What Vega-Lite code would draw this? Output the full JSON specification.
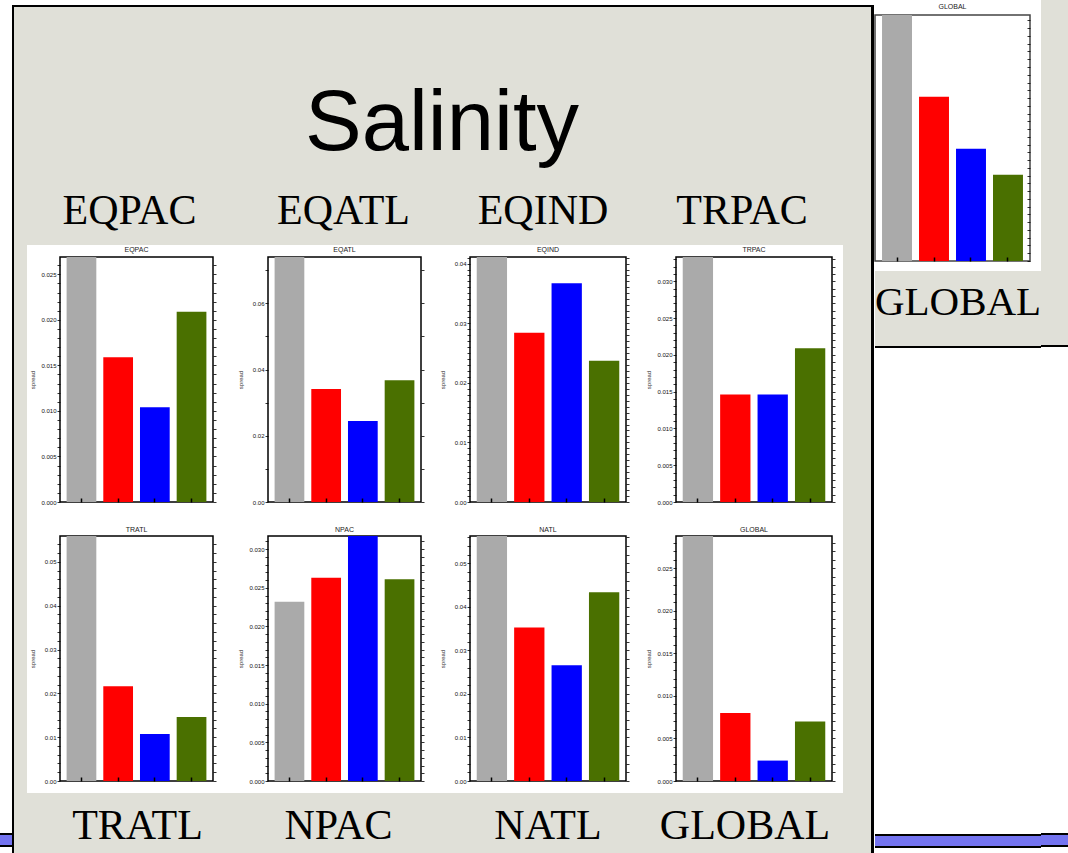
{
"$schema": "https://vega.github.io/schema/vega-lite/v6.json",
"background": "white",
"padding": 0,
"config": {"view": {"stroke": null}, "concat": {"spacing": 0}, "font": "Liberation Sans"},
"datasets": {
"spread": [
{"region":"EQPAC","model":"A","spread":0.028},{"region":"EQPAC","model":"B","spread":0.0159},{"region":"EQPAC","model":"C","spread":0.0104},{"region":"EQPAC","model":"D","spread":0.0209},
{"region":"EQATL","model":"A","spread":0.076},{"region":"EQATL","model":"B","spread":0.0341},{"region":"EQATL","model":"C","spread":0.0245},{"region":"EQATL","model":"D","spread":0.0368},
{"region":"EQIND","model":"A","spread":0.042},{"region":"EQIND","model":"B","spread":0.0284},{"region":"EQIND","model":"C","spread":0.0367},{"region":"EQIND","model":"D","spread":0.0237},
{"region":"TRPAC","model":"A","spread":0.034},{"region":"TRPAC","model":"B","spread":0.0146},{"region":"TRPAC","model":"C","spread":0.0146},{"region":"TRPAC","model":"D","spread":0.0209},
{"region":"TRATL","model":"A","spread":0.057},{"region":"TRATL","model":"B","spread":0.0216},{"region":"TRATL","model":"C","spread":0.0107},{"region":"TRATL","model":"D","spread":0.0146},
{"region":"NPAC","model":"A","spread":0.0232},{"region":"NPAC","model":"B","spread":0.0263},{"region":"NPAC","model":"C","spread":0.033},{"region":"NPAC","model":"D","spread":0.0261},
{"region":"NATL","model":"A","spread":0.057},{"region":"NATL","model":"B","spread":0.0353},{"region":"NATL","model":"C","spread":0.0266},{"region":"NATL","model":"D","spread":0.0434},
{"region":"GLOBAL","model":"A","spread":0.030},{"region":"GLOBAL","model":"B","spread":0.0080},{"region":"GLOBAL","model":"C","spread":0.0024},{"region":"GLOBAL","model":"D","spread":0.0070}
],
"global2": [{"model":"A","v":6.6},{"model":"B","v":4.23},{"model":"C","v":2.89},{"model":"D","v":2.22}]
},
"spacing": 0,
"hconcat": [
{"bounds": "flush", "spacing": 0, "vconcat": [
 {"width":12,"height":833,"data":{"values":[{}]},"mark":{"type":"point","size":0,"strokeWidth":0,"opacity":0},"encoding":{}},
 {"width":12,"height":2,"data":{"values":[{}]},"view":{"fill":"black"},"mark":{"type":"point","size":0,"strokeWidth":0,"opacity":0},"encoding":{}},
 {"width":12,"height":10,"data":{"values":[{}]},"view":{"fill":"#7474f0"},"mark":{"type":"point","size":0,"strokeWidth":0,"opacity":0},"encoding":{}},
 {"width":12,"height":2,"data":{"values":[{}]},"view":{"fill":"black"},"mark":{"type":"point","size":0,"strokeWidth":0,"opacity":0},"encoding":{}}
]},
{"spacing": 0, "vconcat": [
 {"width":862,"height":5,"data":{"values":[{}]},"mark":{"type":"point","size":0,"strokeWidth":0,"opacity":0},"encoding":{}},
 {"spacing": 0, "hconcat": [
  {"width":2,"height":848,"data":{"values":[{}]},"view":{"fill":"black"},"mark":{"type":"point","size":0,"strokeWidth":0,"opacity":0},"encoding":{}},
  {"spacing": 0, "vconcat": [
   {"width":857,"height":2,"data":{"values":[{}]},"view":{"fill":"black"},"mark":{"type":"point","size":0,"strokeWidth":0,"opacity":0},"encoding":{}},
   {"spacing": 0, "hconcat": [
    {"width":13,"height":846,"data":{"values":[{}]},"view":{"fill":"#e0e0d8"},"mark":{"type":"point","size":0,"strokeWidth":0,"opacity":0},"encoding":{}},
    {"spacing": 0, "vconcat": [
     {"width":816,"height":170,"data":{"values":[{"t":"Salinity"}]},"view":{"fill":"#e0e0d8"},"mark":{"type":"text","font":"Liberation Sans","fontSize":85,"baseline":"alphabetic","color":"black","dx":7,"dy":58},"encoding":{"text":{"field":"t","type":"nominal"}}},
     {"bounds":"flush","spacing":0,"hconcat":[
      {"width":33,"height":68,"data":{"values":[{}]},"view":{"fill":"#e0e0d8"},"mark":{"type":"point","size":0,"strokeWidth":0,"opacity":0},"encoding":{}},
      {"width":153,"height":68,"data":{"values":[{"t":"EQPAC"}]},"view":{"fill":"#e0e0d8"},"mark":{"type":"text","font":"Liberation Serif","fontSize":42,"baseline":"alphabetic","color":"black","dx":-7,"dy":13},"encoding":{"text":{"field":"t","type":"nominal"}}},
      {"width":55,"height":68,"data":{"values":[{}]},"view":{"fill":"#e0e0d8"},"mark":{"type":"point","size":0,"strokeWidth":0,"opacity":0},"encoding":{}},
      {"width":153,"height":68,"data":{"values":[{"t":"EQATL"}]},"view":{"fill":"#e0e0d8"},"mark":{"type":"text","font":"Liberation Serif","fontSize":42,"baseline":"alphabetic","color":"black","dx":-1,"dy":13},"encoding":{"text":{"field":"t","type":"nominal"}}},
      {"width":49,"height":68,"data":{"values":[{}]},"view":{"fill":"#e0e0d8"},"mark":{"type":"point","size":0,"strokeWidth":0,"opacity":0},"encoding":{}},
      {"width":156,"height":68,"data":{"values":[{"t":"EQIND"}]},"view":{"fill":"#e0e0d8"},"mark":{"type":"text","font":"Liberation Serif","fontSize":42,"baseline":"alphabetic","color":"black","dx":-5,"dy":13},"encoding":{"text":{"field":"t","type":"nominal"}}},
      {"width":50,"height":68,"data":{"values":[{}]},"view":{"fill":"#e0e0d8"},"mark":{"type":"point","size":0,"strokeWidth":0,"opacity":0},"encoding":{}},
      {"width":156,"height":68,"data":{"values":[{"t":"TRPAC"}]},"view":{"fill":"#e0e0d8"},"mark":{"type":"text","font":"Liberation Serif","fontSize":42,"baseline":"alphabetic","color":"black","dx":-12,"dy":13},"encoding":{"text":{"field":"t","type":"nominal"}}},
      {"width":11,"height":68,"data":{"values":[{}]},"view":{"fill":"#e0e0d8"},"mark":{"type":"point","size":0,"strokeWidth":0,"opacity":0},"encoding":{}}
     ]},
     {"bounds":"flush","spacing":0,"hconcat":[
      {"width":33,"height":8,"data":{"values":[{}]},"mark":{"type":"point","size":0,"strokeWidth":0,"opacity":0},"encoding":{}},
      {"width":153,"height":8,"data":{"values":[{"t":"EQPAC"}]},"mark":{"type":"text","font":"Liberation Sans","fontSize":7,"color":"#222222","dy":1},"encoding":{"text":{"field":"t","type":"nominal"}}},
      {"width":55,"height":8,"data":{"values":[{}]},"mark":{"type":"point","size":0,"strokeWidth":0,"opacity":0},"encoding":{}},
      {"width":153,"height":8,"data":{"values":[{"t":"EQATL"}]},"mark":{"type":"text","font":"Liberation Sans","fontSize":7,"color":"#222222","dy":1},"encoding":{"text":{"field":"t","type":"nominal"}}},
      {"width":49,"height":8,"data":{"values":[{}]},"mark":{"type":"point","size":0,"strokeWidth":0,"opacity":0},"encoding":{}},
      {"width":156,"height":8,"data":{"values":[{"t":"EQIND"}]},"mark":{"type":"text","font":"Liberation Sans","fontSize":7,"color":"#222222","dy":1},"encoding":{"text":{"field":"t","type":"nominal"}}},
      {"width":50,"height":8,"data":{"values":[{}]},"mark":{"type":"point","size":0,"strokeWidth":0,"opacity":0},"encoding":{}},
      {"width":156,"height":8,"data":{"values":[{"t":"TRPAC"}]},"mark":{"type":"text","font":"Liberation Sans","fontSize":7,"color":"#222222","dy":1},"encoding":{"text":{"field":"t","type":"nominal"}}},
      {"width":11,"height":8,"data":{"values":[{}]},"mark":{"type":"point","size":0,"strokeWidth":0,"opacity":0},"encoding":{}}
     ]},
     {"bounds":"flush","spacing":0,"hconcat":[
      {"width":33,"height":245,"data":{"values":[{}]},"mark":{"type":"point","size":0,"strokeWidth":0,"opacity":0},"encoding":{}},
      {"width":153,"height":245,"data":{"name":"spread"},"transform":[{"filter":"datum.region === 'EQPAC'"}],
       "view":{"fill":"white","stroke":"black","strokeWidth":1.5},
       "encoding":{"x":{"field":"model","type":"nominal","sort":null,"scale":{"paddingInner":0.19,"paddingOuter":0.18},"axis":{"title":null,"labels":false,"domain":false,"grid":false,"tickSize":4,"offset":-4,"tickColor":"black","tickWidth":1.5,"zindex":1}},
        "color":{"field":"model","type":"nominal","scale":{"domain":["A","B","C","D"],"range":["#aaaaaa","#ff0000","#0000ff","#4a7000"]},"legend":null}},
       "layer":[
        {"mark":{"type":"bar","clip":true},"encoding":{"y":{"field":"spread","type":"quantitative","scale":{"domain":[0,0.0269],"nice":false},"axis":{"orient":"left","title":"spread","titleFontSize":6,"titleFont":"Liberation Sans","titleFontWeight":"normal","titleColor":"#333333","titlePadding":5,"minExtent":20,"maxExtent":20,"values":[0,0.001,0.002,0.003,0.004,0.005,0.006,0.007,0.008,0.009,0.01,0.011,0.012,0.013,0.014,0.015,0.016,0.017,0.018,0.019,0.02,0.021,0.022,0.023,0.024,0.025,0.026],"labelExpr":"abs(datum.value*200-round(datum.value*200))<0.01 ? format(datum.value,'.3f') : ''","labelFontSize":6,"labelFont":"Liberation Sans","labelColor":"#111111","labelPadding":1,"labelFlush":false,"labelOverlap":false,"tickSize":3,"tickColor":"black","tickWidth":0.8,"domain":false,"grid":false}}}},
        {"mark":{"type":"bar","clip":true,"opacity":0},"encoding":{"y":{"field":"spread","type":"quantitative","scale":{"domain":[0,0.0269],"nice":false},"axis":{"orient":"right","title":null,"labels":false,"values":[0,0.001,0.002,0.003,0.004,0.005,0.006,0.007,0.008,0.009,0.01,0.011,0.012,0.013,0.014,0.015,0.016,0.017,0.018,0.019,0.02,0.021,0.022,0.023,0.024,0.025,0.026],"tickSize":3,"tickColor":"black","tickWidth":0.8,"domain":false,"grid":false}}}}
       ],
       "resolve":{"scale":{"y":"independent"}}},
      {"width":55,"height":245,"data":{"values":[{}]},"mark":{"type":"point","size":0,"strokeWidth":0,"opacity":0},"encoding":{}},
      {"width":153,"height":245,"data":{"name":"spread"},"transform":[{"filter":"datum.region === 'EQATL'"}],
       "view":{"fill":"white","stroke":"black","strokeWidth":1.5},
       "encoding":{"x":{"field":"model","type":"nominal","sort":null,"scale":{"paddingInner":0.19,"paddingOuter":0.18},"axis":{"title":null,"labels":false,"domain":false,"grid":false,"tickSize":4,"offset":-4,"tickColor":"black","tickWidth":1.5,"zindex":1}},
        "color":{"field":"model","type":"nominal","scale":{"domain":["A","B","C","D"],"range":["#aaaaaa","#ff0000","#0000ff","#4a7000"]},"legend":null}},
       "layer":[
        {"mark":{"type":"bar","clip":true},"encoding":{"y":{"field":"spread","type":"quantitative","scale":{"domain":[0,0.074],"nice":false},"axis":{"orient":"left","title":"spread","titleFontSize":6,"titleFont":"Liberation Sans","titleFontWeight":"normal","titleColor":"#333333","titlePadding":5,"minExtent":20,"maxExtent":20,"values":[0,0.01,0.02,0.03,0.04,0.05,0.06,0.07],"labelExpr":"abs(datum.value*50-round(datum.value*50))<0.01 ? format(datum.value,'.2f') : ''","labelFontSize":6,"labelFont":"Liberation Sans","labelColor":"#111111","labelPadding":1,"labelFlush":false,"labelOverlap":false,"tickSize":3,"tickColor":"black","tickWidth":0.8,"domain":false,"grid":false}}}},
        {"mark":{"type":"bar","clip":true,"opacity":0},"encoding":{"y":{"field":"spread","type":"quantitative","scale":{"domain":[0,0.074],"nice":false},"axis":{"orient":"right","title":null,"labels":false,"values":[0,0.01,0.02,0.03,0.04,0.05,0.06,0.07],"tickSize":3,"tickColor":"black","tickWidth":0.8,"domain":false,"grid":false}}}}
       ],
       "resolve":{"scale":{"y":"independent"}}},
      {"width":49,"height":245,"data":{"values":[{}]},"mark":{"type":"point","size":0,"strokeWidth":0,"opacity":0},"encoding":{}},
      {"width":156,"height":245,"data":{"name":"spread"},"transform":[{"filter":"datum.region === 'EQIND'"}],
       "view":{"fill":"white","stroke":"black","strokeWidth":1.5},
       "encoding":{"x":{"field":"model","type":"nominal","sort":null,"scale":{"paddingInner":0.19,"paddingOuter":0.18},"axis":{"title":null,"labels":false,"domain":false,"grid":false,"tickSize":4,"offset":-4,"tickColor":"black","tickWidth":1.5,"zindex":1}},
        "color":{"field":"model","type":"nominal","scale":{"domain":["A","B","C","D"],"range":["#aaaaaa","#ff0000","#0000ff","#4a7000"]},"legend":null}},
       "layer":[
        {"mark":{"type":"bar","clip":true},"encoding":{"y":{"field":"spread","type":"quantitative","scale":{"domain":[0,0.0411],"nice":false},"axis":{"orient":"left","title":"spread","titleFontSize":6,"titleFont":"Liberation Sans","titleFontWeight":"normal","titleColor":"#333333","titlePadding":5,"minExtent":20,"maxExtent":20,"values":[0,0.001,0.002,0.003,0.004,0.005,0.006,0.007,0.008,0.009,0.01,0.011,0.012,0.013,0.014,0.015,0.016,0.017,0.018,0.019,0.02,0.021,0.022,0.023,0.024,0.025,0.026,0.027,0.028,0.029,0.03,0.031,0.032,0.033,0.034,0.035,0.036,0.037,0.038,0.039,0.04,0.041],"labelExpr":"abs(datum.value*100-round(datum.value*100))<0.01 ? format(datum.value,'.2f') : ''","labelFontSize":6,"labelFont":"Liberation Sans","labelColor":"#111111","labelPadding":1,"labelFlush":false,"labelOverlap":false,"tickSize":3,"tickColor":"black","tickWidth":0.8,"domain":false,"grid":false}}}},
        {"mark":{"type":"bar","clip":true,"opacity":0},"encoding":{"y":{"field":"spread","type":"quantitative","scale":{"domain":[0,0.0411],"nice":false},"axis":{"orient":"right","title":null,"labels":false,"values":[0,0.001,0.002,0.003,0.004,0.005,0.006,0.007,0.008,0.009,0.01,0.011,0.012,0.013,0.014,0.015,0.016,0.017,0.018,0.019,0.02,0.021,0.022,0.023,0.024,0.025,0.026,0.027,0.028,0.029,0.03,0.031,0.032,0.033,0.034,0.035,0.036,0.037,0.038,0.039,0.04,0.041],"tickSize":3,"tickColor":"black","tickWidth":0.8,"domain":false,"grid":false}}}}
       ],
       "resolve":{"scale":{"y":"independent"}}},
      {"width":50,"height":245,"data":{"values":[{}]},"mark":{"type":"point","size":0,"strokeWidth":0,"opacity":0},"encoding":{}},
      {"width":156,"height":245,"data":{"name":"spread"},"transform":[{"filter":"datum.region === 'TRPAC'"}],
       "view":{"fill":"white","stroke":"black","strokeWidth":1.5},
       "encoding":{"x":{"field":"model","type":"nominal","sort":null,"scale":{"paddingInner":0.19,"paddingOuter":0.18},"axis":{"title":null,"labels":false,"domain":false,"grid":false,"tickSize":4,"offset":-4,"tickColor":"black","tickWidth":1.5,"zindex":1}},
        "color":{"field":"model","type":"nominal","scale":{"domain":["A","B","C","D"],"range":["#aaaaaa","#ff0000","#0000ff","#4a7000"]},"legend":null}},
       "layer":[
        {"mark":{"type":"bar","clip":true},"encoding":{"y":{"field":"spread","type":"quantitative","scale":{"domain":[0,0.0333],"nice":false},"axis":{"orient":"left","title":"spread","titleFontSize":6,"titleFont":"Liberation Sans","titleFontWeight":"normal","titleColor":"#333333","titlePadding":5,"minExtent":20,"maxExtent":20,"values":[0,0.001,0.002,0.003,0.004,0.005,0.006,0.007,0.008,0.009,0.01,0.011,0.012,0.013,0.014,0.015,0.016,0.017,0.018,0.019,0.02,0.021,0.022,0.023,0.024,0.025,0.026,0.027,0.028,0.029,0.03,0.031,0.032,0.033],"labelExpr":"abs(datum.value*200-round(datum.value*200))<0.01 ? format(datum.value,'.3f') : ''","labelFontSize":6,"labelFont":"Liberation Sans","labelColor":"#111111","labelPadding":1,"labelFlush":false,"labelOverlap":false,"tickSize":3,"tickColor":"black","tickWidth":0.8,"domain":false,"grid":false}}}},
        {"mark":{"type":"bar","clip":true,"opacity":0},"encoding":{"y":{"field":"spread","type":"quantitative","scale":{"domain":[0,0.0333],"nice":false},"axis":{"orient":"right","title":null,"labels":false,"values":[0,0.001,0.002,0.003,0.004,0.005,0.006,0.007,0.008,0.009,0.01,0.011,0.012,0.013,0.014,0.015,0.016,0.017,0.018,0.019,0.02,0.021,0.022,0.023,0.024,0.025,0.026,0.027,0.028,0.029,0.03,0.031,0.032,0.033],"tickSize":3,"tickColor":"black","tickWidth":0.8,"domain":false,"grid":false}}}}
       ],
       "resolve":{"scale":{"y":"independent"}}},
      {"width":11,"height":245,"data":{"values":[{}]},"mark":{"type":"point","size":0,"strokeWidth":0,"opacity":0},"encoding":{}}
     ]},
     {"bounds":"flush","spacing":0,"hconcat":[
      {"width":33,"height":27,"data":{"values":[{}]},"mark":{"type":"point","size":0,"strokeWidth":0,"opacity":0},"encoding":{}},
      {"width":153,"height":27,"data":{"values":[{"t":"TRATL"}]},"mark":{"type":"text","font":"Liberation Sans","fontSize":7,"color":"#222222","dy":10.5},"encoding":{"text":{"field":"t","type":"nominal"}}},
      {"width":55,"height":27,"data":{"values":[{}]},"mark":{"type":"point","size":0,"strokeWidth":0,"opacity":0},"encoding":{}},
      {"width":153,"height":27,"data":{"values":[{"t":"NPAC"}]},"mark":{"type":"text","font":"Liberation Sans","fontSize":7,"color":"#222222","dy":10.5},"encoding":{"text":{"field":"t","type":"nominal"}}},
      {"width":49,"height":27,"data":{"values":[{}]},"mark":{"type":"point","size":0,"strokeWidth":0,"opacity":0},"encoding":{}},
      {"width":156,"height":27,"data":{"values":[{"t":"NATL"}]},"mark":{"type":"text","font":"Liberation Sans","fontSize":7,"color":"#222222","dy":10.5},"encoding":{"text":{"field":"t","type":"nominal"}}},
      {"width":50,"height":27,"data":{"values":[{}]},"mark":{"type":"point","size":0,"strokeWidth":0,"opacity":0},"encoding":{}},
      {"width":156,"height":27,"data":{"values":[{"t":"GLOBAL"}]},"mark":{"type":"text","font":"Liberation Sans","fontSize":7,"color":"#222222","dy":10.5},"encoding":{"text":{"field":"t","type":"nominal"}}},
      {"width":11,"height":27,"data":{"values":[{}]},"mark":{"type":"point","size":0,"strokeWidth":0,"opacity":0},"encoding":{}}
     ]},
     {"bounds":"flush","spacing":0,"hconcat":[
      {"width":33,"height":245,"data":{"values":[{}]},"mark":{"type":"point","size":0,"strokeWidth":0,"opacity":0},"encoding":{}},
      {"width":153,"height":245,"data":{"name":"spread"},"transform":[{"filter":"datum.region === 'TRATL'"}],
       "view":{"fill":"white","stroke":"black","strokeWidth":1.5},
       "encoding":{"x":{"field":"model","type":"nominal","sort":null,"scale":{"paddingInner":0.19,"paddingOuter":0.18},"axis":{"title":null,"labels":false,"domain":false,"grid":false,"tickSize":4,"offset":-4,"tickColor":"black","tickWidth":1.5,"zindex":1}},
        "color":{"field":"model","type":"nominal","scale":{"domain":["A","B","C","D"],"range":["#aaaaaa","#ff0000","#0000ff","#4a7000"]},"legend":null}},
       "layer":[
        {"mark":{"type":"bar","clip":true},"encoding":{"y":{"field":"spread","type":"quantitative","scale":{"domain":[0,0.0559],"nice":false},"axis":{"orient":"left","title":"spread","titleFontSize":6,"titleFont":"Liberation Sans","titleFontWeight":"normal","titleColor":"#333333","titlePadding":5,"minExtent":20,"maxExtent":20,"values":[0,0.002,0.004,0.006,0.008,0.01,0.012,0.014,0.016,0.018,0.02,0.022,0.024,0.026,0.028,0.03,0.032,0.034,0.036,0.038,0.04,0.042,0.044,0.046,0.048,0.05,0.052,0.054],"labelExpr":"abs(datum.value*100-round(datum.value*100))<0.01 ? format(datum.value,'.2f') : ''","labelFontSize":6,"labelFont":"Liberation Sans","labelColor":"#111111","labelPadding":1,"labelFlush":false,"labelOverlap":false,"tickSize":3,"tickColor":"black","tickWidth":0.8,"domain":false,"grid":false}}}},
        {"mark":{"type":"bar","clip":true,"opacity":0},"encoding":{"y":{"field":"spread","type":"quantitative","scale":{"domain":[0,0.0559],"nice":false},"axis":{"orient":"right","title":null,"labels":false,"values":[0,0.002,0.004,0.006,0.008,0.01,0.012,0.014,0.016,0.018,0.02,0.022,0.024,0.026,0.028,0.03,0.032,0.034,0.036,0.038,0.04,0.042,0.044,0.046,0.048,0.05,0.052,0.054],"tickSize":3,"tickColor":"black","tickWidth":0.8,"domain":false,"grid":false}}}}
       ],
       "resolve":{"scale":{"y":"independent"}}},
      {"width":55,"height":245,"data":{"values":[{}]},"mark":{"type":"point","size":0,"strokeWidth":0,"opacity":0},"encoding":{}},
      {"width":153,"height":245,"data":{"name":"spread"},"transform":[{"filter":"datum.region === 'NPAC'"}],
       "view":{"fill":"white","stroke":"black","strokeWidth":1.5},
       "encoding":{"x":{"field":"model","type":"nominal","sort":null,"scale":{"paddingInner":0.19,"paddingOuter":0.18},"axis":{"title":null,"labels":false,"domain":false,"grid":false,"tickSize":4,"offset":-4,"tickColor":"black","tickWidth":1.5,"zindex":1}},
        "color":{"field":"model","type":"nominal","scale":{"domain":["A","B","C","D"],"range":["#aaaaaa","#ff0000","#0000ff","#4a7000"]},"legend":null}},
       "layer":[
        {"mark":{"type":"bar","clip":true},"encoding":{"y":{"field":"spread","type":"quantitative","scale":{"domain":[0,0.0317],"nice":false},"axis":{"orient":"left","title":"spread","titleFontSize":6,"titleFont":"Liberation Sans","titleFontWeight":"normal","titleColor":"#333333","titlePadding":5,"minExtent":20,"maxExtent":20,"values":[0,0.001,0.002,0.003,0.004,0.005,0.006,0.007,0.008,0.009,0.01,0.011,0.012,0.013,0.014,0.015,0.016,0.017,0.018,0.019,0.02,0.021,0.022,0.023,0.024,0.025,0.026,0.027,0.028,0.029,0.03,0.031],"labelExpr":"abs(datum.value*200-round(datum.value*200))<0.01 ? format(datum.value,'.3f') : ''","labelFontSize":6,"labelFont":"Liberation Sans","labelColor":"#111111","labelPadding":1,"labelFlush":false,"labelOverlap":false,"tickSize":3,"tickColor":"black","tickWidth":0.8,"domain":false,"grid":false}}}},
        {"mark":{"type":"bar","clip":true,"opacity":0},"encoding":{"y":{"field":"spread","type":"quantitative","scale":{"domain":[0,0.0317],"nice":false},"axis":{"orient":"right","title":null,"labels":false,"values":[0,0.001,0.002,0.003,0.004,0.005,0.006,0.007,0.008,0.009,0.01,0.011,0.012,0.013,0.014,0.015,0.016,0.017,0.018,0.019,0.02,0.021,0.022,0.023,0.024,0.025,0.026,0.027,0.028,0.029,0.03,0.031],"tickSize":3,"tickColor":"black","tickWidth":0.8,"domain":false,"grid":false}}}}
       ],
       "resolve":{"scale":{"y":"independent"}}},
      {"width":49,"height":245,"data":{"values":[{}]},"mark":{"type":"point","size":0,"strokeWidth":0,"opacity":0},"encoding":{}},
      {"width":156,"height":245,"data":{"name":"spread"},"transform":[{"filter":"datum.region === 'NATL'"}],
       "view":{"fill":"white","stroke":"black","strokeWidth":1.5},
       "encoding":{"x":{"field":"model","type":"nominal","sort":null,"scale":{"paddingInner":0.19,"paddingOuter":0.18},"axis":{"title":null,"labels":false,"domain":false,"grid":false,"tickSize":4,"offset":-4,"tickColor":"black","tickWidth":1.5,"zindex":1}},
        "color":{"field":"model","type":"nominal","scale":{"domain":["A","B","C","D"],"range":["#aaaaaa","#ff0000","#0000ff","#4a7000"]},"legend":null}},
       "layer":[
        {"mark":{"type":"bar","clip":true},"encoding":{"y":{"field":"spread","type":"quantitative","scale":{"domain":[0,0.0563],"nice":false},"axis":{"orient":"left","title":"spread","titleFontSize":6,"titleFont":"Liberation Sans","titleFontWeight":"normal","titleColor":"#333333","titlePadding":5,"minExtent":20,"maxExtent":20,"values":[0,0.002,0.004,0.006,0.008,0.01,0.012,0.014,0.016,0.018,0.02,0.022,0.024,0.026,0.028,0.03,0.032,0.034,0.036,0.038,0.04,0.042,0.044,0.046,0.048,0.05,0.052,0.054,0.056],"labelExpr":"abs(datum.value*100-round(datum.value*100))<0.01 ? format(datum.value,'.2f') : ''","labelFontSize":6,"labelFont":"Liberation Sans","labelColor":"#111111","labelPadding":1,"labelFlush":false,"labelOverlap":false,"tickSize":3,"tickColor":"black","tickWidth":0.8,"domain":false,"grid":false}}}},
        {"mark":{"type":"bar","clip":true,"opacity":0},"encoding":{"y":{"field":"spread","type":"quantitative","scale":{"domain":[0,0.0563],"nice":false},"axis":{"orient":"right","title":null,"labels":false,"values":[0,0.002,0.004,0.006,0.008,0.01,0.012,0.014,0.016,0.018,0.02,0.022,0.024,0.026,0.028,0.03,0.032,0.034,0.036,0.038,0.04,0.042,0.044,0.046,0.048,0.05,0.052,0.054,0.056],"tickSize":3,"tickColor":"black","tickWidth":0.8,"domain":false,"grid":false}}}}
       ],
       "resolve":{"scale":{"y":"independent"}}},
      {"width":50,"height":245,"data":{"values":[{}]},"mark":{"type":"point","size":0,"strokeWidth":0,"opacity":0},"encoding":{}},
      {"width":156,"height":245,"data":{"name":"spread"},"transform":[{"filter":"datum.region === 'GLOBAL'"}],
       "view":{"fill":"white","stroke":"black","strokeWidth":1.5},
       "encoding":{"x":{"field":"model","type":"nominal","sort":null,"scale":{"paddingInner":0.19,"paddingOuter":0.18},"axis":{"title":null,"labels":false,"domain":false,"grid":false,"tickSize":4,"offset":-4,"tickColor":"black","tickWidth":1.5,"zindex":1}},
        "color":{"field":"model","type":"nominal","scale":{"domain":["A","B","C","D"],"range":["#aaaaaa","#ff0000","#0000ff","#4a7000"]},"legend":null}},
       "layer":[
        {"mark":{"type":"bar","clip":true},"encoding":{"y":{"field":"spread","type":"quantitative","scale":{"domain":[0,0.0288],"nice":false},"axis":{"orient":"left","title":"spread","titleFontSize":6,"titleFont":"Liberation Sans","titleFontWeight":"normal","titleColor":"#333333","titlePadding":5,"minExtent":20,"maxExtent":20,"values":[0,0.001,0.002,0.003,0.004,0.005,0.006,0.007,0.008,0.009,0.01,0.011,0.012,0.013,0.014,0.015,0.016,0.017,0.018,0.019,0.02,0.021,0.022,0.023,0.024,0.025,0.026,0.027,0.028],"labelExpr":"abs(datum.value*200-round(datum.value*200))<0.01 ? format(datum.value,'.3f') : ''","labelFontSize":6,"labelFont":"Liberation Sans","labelColor":"#111111","labelPadding":1,"labelFlush":false,"labelOverlap":false,"tickSize":3,"tickColor":"black","tickWidth":0.8,"domain":false,"grid":false}}}},
        {"mark":{"type":"bar","clip":true,"opacity":0},"encoding":{"y":{"field":"spread","type":"quantitative","scale":{"domain":[0,0.0288],"nice":false},"axis":{"orient":"right","title":null,"labels":false,"values":[0,0.001,0.002,0.003,0.004,0.005,0.006,0.007,0.008,0.009,0.01,0.011,0.012,0.013,0.014,0.015,0.016,0.017,0.018,0.019,0.02,0.021,0.022,0.023,0.024,0.025,0.026,0.027,0.028],"tickSize":3,"tickColor":"black","tickWidth":0.8,"domain":false,"grid":false}}}}
       ],
       "resolve":{"scale":{"y":"independent"}}},
      {"width":11,"height":245,"data":{"values":[{}]},"mark":{"type":"point","size":0,"strokeWidth":0,"opacity":0},"encoding":{}}
     ]},
     {"width":816,"height":8,"data":{"values":[{}]},"mark":{"type":"point","size":0,"strokeWidth":0,"opacity":0},"encoding":{}},
     {"bounds":"flush","spacing":0,"hconcat":[
      {"width":33,"height":61,"data":{"values":[{}]},"view":{"fill":"#e0e0d8"},"mark":{"type":"point","size":0,"strokeWidth":0,"opacity":0},"encoding":{}},
      {"width":153,"height":61,"data":{"values":[{"t":"TRATL"}]},"view":{"fill":"#e0e0d8"},"mark":{"type":"text","font":"Liberation Serif","fontSize":42,"baseline":"alphabetic","color":"black","dx":1,"dy":15},"encoding":{"text":{"field":"t","type":"nominal"}}},
      {"width":55,"height":61,"data":{"values":[{}]},"view":{"fill":"#e0e0d8"},"mark":{"type":"point","size":0,"strokeWidth":0,"opacity":0},"encoding":{}},
      {"width":153,"height":61,"data":{"values":[{"t":"NPAC"}]},"view":{"fill":"#e0e0d8"},"mark":{"type":"text","font":"Liberation Serif","fontSize":42,"baseline":"alphabetic","color":"black","dx":-6,"dy":15},"encoding":{"text":{"field":"t","type":"nominal"}}},
      {"width":49,"height":61,"data":{"values":[{}]},"view":{"fill":"#e0e0d8"},"mark":{"type":"point","size":0,"strokeWidth":0,"opacity":0},"encoding":{}},
      {"width":156,"height":61,"data":{"values":[{"t":"NATL"}]},"view":{"fill":"#e0e0d8"},"mark":{"type":"text","font":"Liberation Serif","fontSize":42,"baseline":"alphabetic","color":"black","dx":0,"dy":15},"encoding":{"text":{"field":"t","type":"nominal"}}},
      {"width":50,"height":61,"data":{"values":[{}]},"view":{"fill":"#e0e0d8"},"mark":{"type":"point","size":0,"strokeWidth":0,"opacity":0},"encoding":{}},
      {"width":156,"height":61,"data":{"values":[{"t":"GLOBAL"}]},"view":{"fill":"#e0e0d8"},"mark":{"type":"text","font":"Liberation Serif","fontSize":42,"baseline":"alphabetic","color":"black","dx":-9,"dy":15},"encoding":{"text":{"field":"t","type":"nominal"}}},
      {"width":11,"height":61,"data":{"values":[{}]},"view":{"fill":"#e0e0d8"},"mark":{"type":"point","size":0,"strokeWidth":0,"opacity":0},"encoding":{}}
     ]}
    ]},
    {"width":28,"height":846,"data":{"values":[{}]},"view":{"fill":"#e0e0d8"},"mark":{"type":"point","size":0,"strokeWidth":0,"opacity":0},"encoding":{}}
   ]}
  ]},
  {"width":3,"height":848,"data":{"values":[{}]},"view":{"fill":"black"},"mark":{"type":"point","size":0,"strokeWidth":0,"opacity":0},"encoding":{}}
 ]}
]},
{"spacing": 0, "hconcat": [
 {"spacing": 0, "vconcat": [
  {"bounds":"flush","spacing":0,"hconcat":[
   {"width":155,"height":14,"data":{"values":[{"t":"GLOBAL"}]},"mark":{"type":"text","font":"Liberation Sans","fontSize":7,"color":"#222222"},"encoding":{"text":{"field":"t","type":"nominal"}}},
   {"width":11,"height":14,"data":{"values":[{}]},"mark":{"type":"point","size":0,"strokeWidth":0,"opacity":0},"encoding":{}}
  ]},
  {"bounds":"flush","spacing":0,"hconcat":[
   {"width":155,"height":246,"data":{"name":"global2"},
    "view":{"fill":"white","stroke":"#444444","strokeWidth":1.5},
    "encoding":{"x":{"field":"model","type":"nominal","sort":null,"scale":{"paddingInner":0.19,"paddingOuter":0.19},"axis":{"title":null,"labels":false,"domain":false,"grid":false,"tickSize":4,"offset":-4,"tickColor":"black","tickWidth":1.5,"zindex":1}},
     "color":{"field":"model","type":"nominal","scale":{"domain":["A","B","C","D"],"range":["#aaaaaa","#ff0000","#0000ff","#4a7000"]},"legend":null},
     "y":{"field":"v","type":"quantitative","scale":{"domain":[0,6.34],"nice":false},"axis":{"orient":"right","title":null,"labels":false,"values":[0,0.2,0.4,0.6,0.8,1,1.2,1.4,1.6,1.8,2,2.2,2.4,2.6,2.8,3,3.2,3.4,3.6,3.8,4,4.2,4.4,4.6,4.8,5,5.2,5.4,5.6,5.8,6,6.2],"tickSize":3,"offset":-3,"tickColor":"black","tickWidth":0.8,"domain":false,"grid":false,"zindex":1}}},
    "mark":{"type":"bar","clip":true}},
   {"width":11,"height":246,"data":{"values":[{}]},"mark":{"type":"point","size":0,"strokeWidth":0,"opacity":0},"encoding":{}}
  ]},
  {"width":166,"height":8,"data":{"values":[{}]},"mark":{"type":"point","size":0,"strokeWidth":0,"opacity":0},"encoding":{}},
  {"width":166,"height":75,"data":{"values":[{"t":"GLOBAL"}]},"view":{"fill":"#e0e0d8"},"mark":{"type":"text","font":"Liberation Serif","fontSize":41,"baseline":"alphabetic","color":"black","dx":0,"dy":6,"clip":true},"encoding":{"text":{"field":"t","type":"nominal"}}},
  {"width":166,"height":2,"data":{"values":[{}]},"view":{"fill":"black"},"mark":{"type":"point","size":0,"strokeWidth":0,"opacity":0},"encoding":{}},
  {"width":166,"height":486,"data":{"values":[{}]},"mark":{"type":"point","size":0,"strokeWidth":0,"opacity":0},"encoding":{}},
  {"width":166,"height":2,"data":{"values":[{}]},"view":{"fill":"black"},"mark":{"type":"point","size":0,"strokeWidth":0,"opacity":0},"encoding":{}},
  {"width":166,"height":10,"data":{"values":[{}]},"view":{"fill":"#7474f0"},"mark":{"type":"point","size":0,"strokeWidth":0,"opacity":0},"encoding":{}},
  {"width":166,"height":2,"data":{"values":[{}]},"view":{"fill":"black"},"mark":{"type":"point","size":0,"strokeWidth":0,"opacity":0},"encoding":{}}
 ]},
 {"bounds":"flush","spacing":0,"vconcat":[
  {"width":28,"height":345,"data":{"values":[{}]},"view":{"fill":"#e0e0d8"},"mark":{"type":"point","size":0,"strokeWidth":0,"opacity":0},"encoding":{}},
  {"width":28,"height":2,"data":{"values":[{}]},"view":{"fill":"black"},"mark":{"type":"point","size":0,"strokeWidth":0,"opacity":0},"encoding":{}},
  {"width":28,"height":486,"data":{"values":[{}]},"mark":{"type":"point","size":0,"strokeWidth":0,"opacity":0},"encoding":{}},
  {"width":28,"height":2,"data":{"values":[{}]},"view":{"fill":"black"},"mark":{"type":"point","size":0,"strokeWidth":0,"opacity":0},"encoding":{}},
  {"width":28,"height":10,"data":{"values":[{}]},"view":{"fill":"#7474f0"},"mark":{"type":"point","size":0,"strokeWidth":0,"opacity":0},"encoding":{}},
  {"width":28,"height":2,"data":{"values":[{}]},"view":{"fill":"black"},"mark":{"type":"point","size":0,"strokeWidth":0,"opacity":0},"encoding":{}}
 ]}
]}
]
}
